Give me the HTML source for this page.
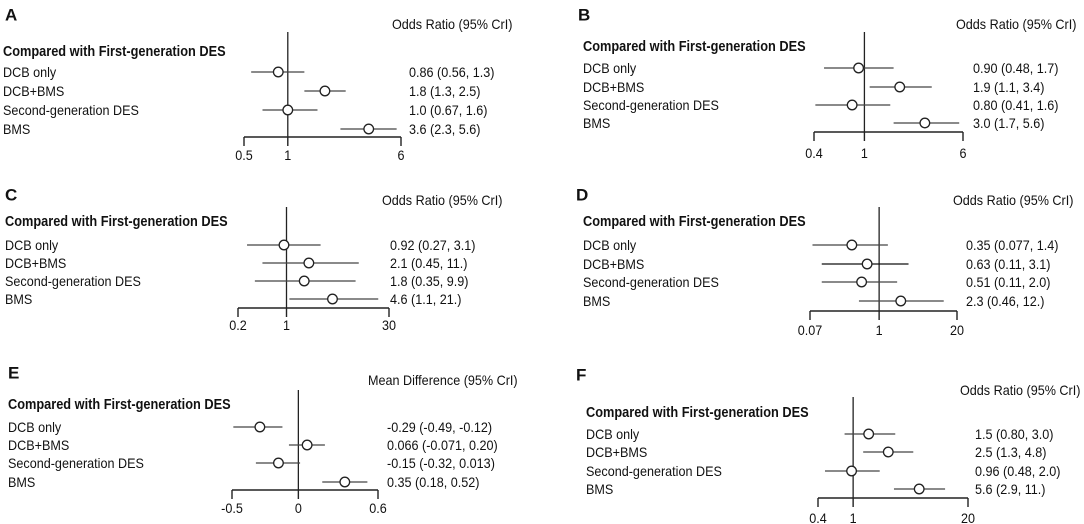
<!DOCTYPE html>
<html><head><meta charset="utf-8"><style>
html,body{margin:0;padding:0;background:#fff}
svg{display:block;font-family:"Liberation Sans",Arial,sans-serif}
</style></head><body>
<svg id="fig" width="1084" height="524" viewBox="0 0 1084 524"></svg>
<script>
const categories = ["DCB only","DCB+BMS","Second-generation DES","BMS"];
const estA=[0.86,1.8,1.0,3.6], loA=[0.56,1.3,0.67,2.3], hiA=[1.3,2.5,1.6,5.6];
const labA=["0.86 (0.56, 1.3)","1.8 (1.3, 2.5)","1.0 (0.67, 1.6)","3.6 (2.3, 5.6)"];
const estB=[0.90,1.9,0.80,3.0], loB=[0.48,1.1,0.41,1.7], hiB=[1.7,3.4,1.6,5.6];
const labB=["0.90 (0.48, 1.7)","1.9 (1.1, 3.4)","0.80 (0.41, 1.6)","3.0 (1.7, 5.6)"];
const estC=[0.92,2.1,1.8,4.6], loC=[0.27,0.45,0.35,1.1], hiC=[3.1,11,9.9,21];
const labC=["0.92 (0.27, 3.1)","2.1 (0.45, 11.)","1.8 (0.35, 9.9)","4.6 (1.1, 21.)"];
const estD=[0.35,0.63,0.51,2.3], loD=[0.077,0.11,0.11,0.46], hiD=[1.4,3.1,2.0,12];
const labD=["0.35 (0.077, 1.4)","0.63 (0.11, 3.1)","0.51 (0.11, 2.0)","2.3 (0.46, 12.)"];
const estE=[-0.29,0.066,-0.15,0.35], loE=[-0.49,-0.071,-0.32,0.18], hiE=[-0.12,0.20,0.013,0.52];
const labE=["-0.29 (-0.49, -0.12)","0.066 (-0.071, 0.20)","-0.15 (-0.32, 0.013)","0.35 (0.18, 0.52)"];
const estF=[1.5,2.5,0.96,5.6], loF=[0.80,1.3,0.48,2.9], hiF=[3.0,4.8,2.0,11];
const labF=["1.5 (0.80, 3.0)","2.5 (1.3, 4.8)","0.96 (0.48, 2.0)","5.6 (2.9, 11.)"];
const ticksA=[0.5,1,6], ticksB=[0.4,1,6], ticksC=[0.2,1,30], ticksD=[0.07,1,20], ticksE=[-0.5,0,0.6], ticksF=[0.4,1,20];
const tickLabA=["0.5","1","6"], tickLabB=["0.4","1","6"], tickLabC=["0.2","1","30"], tickLabD=["0.07","1","20"], tickLabE=["-0.5","0","0.6"], tickLabF=["0.4","1","20"];

const svg=document.getElementById('fig');
const NS="http://www.w3.org/2000/svg";
function mk(tag,attrs,parent){const e=document.createElementNS(NS,tag);for(const k in attrs)e.setAttribute(k,attrs[k]);(parent||svg).appendChild(e);return e;}
function txt(s,x,y,size,parent,opt){opt=opt||{};const t=mk('text',{x:x,y:y,'font-size':size,'dominant-baseline':'central',fill:'#111','text-anchor':opt.anchor||'start','font-weight':opt.bold?'bold':'normal'},parent);t.textContent=s;
  if(opt.squeeze){const w=t.getComputedTextLength();if(w>0){t.setAttribute('textLength',(w*opt.squeeze).toFixed(1));t.setAttribute('lengthAdjust','spacingAndGlyphs');}}return t;}

const panels=[
 {id:'a',letter:'A',lx:5,ly:15,hx:392,hy:24,head:'Odds Ratio (95% CrI)',refTop:32,cx:3,cy:52,rows:[72,91,110,129],ay:137,x0:244,x1:401,ly2:155,vx:409,log:true,ref:1,est:estA,lo:loA,hi:hiA,lab:labA,ticks:ticksA,tl:tickLabA},
 {id:'b',letter:'B',lx:578,ly:15,hx:956,hy:24,head:'Odds Ratio (95% CrI)',refTop:32,cx:583,cy:47,rows:[68,87,105,123],ay:132,x0:814,x1:963,ly2:153,vx:973,log:true,ref:1,est:estB,lo:loB,hi:hiB,lab:labB,ticks:ticksB,tl:tickLabB},
 {id:'c',letter:'C',lx:5,ly:195,hx:382,hy:200,head:'Odds Ratio (95% CrI)',refTop:207,cx:5,cy:222,rows:[245,263,281,299],ay:308,x0:238,x1:389,ly2:325,vx:390,log:true,ref:1,est:estC,lo:loC,hi:hiC,lab:labC,ticks:ticksC,tl:tickLabC},
 {id:'d',letter:'D',lx:576,ly:195,hx:953,hy:200,head:'Odds Ratio (95% CrI)',refTop:207,cx:583,cy:222,rows:[245,264,282,301],ay:311,x0:810,x1:957,ly2:330,vx:966,log:true,ref:1,est:estD,lo:loD,hi:hiD,lab:labD,ticks:ticksD,tl:tickLabD},
 {id:'e',letter:'E',lx:8,ly:373,hx:368,hy:380,head:'Mean Difference (95% CrI)',refTop:390,cx:8,cy:405,rows:[427,445,463,482],ay:490,x0:232,x1:378,ly2:508,vx:387,log:false,ref:0,est:estE,lo:loE,hi:hiE,lab:labE,ticks:ticksE,tl:tickLabE},
 {id:'f',letter:'F',lx:576,ly:375,hx:960,hy:390,head:'Odds Ratio (95% CrI)',refTop:397,cx:586,cy:413,rows:[434,452,471,489],ay:498,x0:818,x1:968,ly2:518,vx:975,log:true,ref:1,est:estF,lo:loF,hi:hiF,lab:labF,ticks:ticksF,tl:tickLabF}
];

panels.forEach(p=>{
  const g=mk('g',{});
  
  
  const tmin=p.ticks[0], tmax=p.ticks[p.ticks.length-1];
  const f=p.log?Math.log:(v=>v);
  const sx=v=>p.x0+(f(v)-f(tmin))/(f(tmax)-f(tmin))*(p.x1-p.x0);
  const L=txt(p.letter,p.lx,p.ly,17,g,{bold:true});
  
  
  const H=txt(p.head,p.hx,p.hy,14,g,{squeeze:0.9});
  
  
  const C=txt('Compared with First-generation DES',p.cx,p.cy,14.5,g,{bold:true,squeeze:0.88});
  
  
  const rl=mk('line',{x1:sx(p.ref),x2:sx(p.ref),y1:p.refTop,y2:p.ay,stroke:'#222','stroke-width':1.3},g);
  
  
  const ax=mk('line',{x1:sx(tmin),x2:sx(tmax),y1:p.ay,y2:p.ay,stroke:'#222','stroke-width':1.4},g);
  
  
  p.ticks.forEach((t,i)=>{
    const tk=mk('line',{x1:sx(t),x2:sx(t),y1:p.ay,y2:p.ay+9,stroke:'#222','stroke-width':1.4},g);
    
    
    const tt=txt(p.tl[i],sx(t),p.ly2,14,g,{anchor:'middle',squeeze:0.9});
    
    
  });
  categories.forEach((c,i)=>{
    const y=p.rows[i];
    const rlab=txt(c,p.cx,y,14,g,{squeeze:0.9});
    
    
    const ci=mk('line',{x1:sx(p.lo[i]),x2:sx(p.hi[i]),y1:y,y2:y,stroke:(p.id==='d'&&i===1)?'#111':'#444','stroke-width':1.3},g);
    
    
    const pt=mk('circle',{cx:sx(p.est[i]),cy:y,r:4.8,fill:'#fff',stroke:'#222','stroke-width':1.3},g);
    
    
    const v=txt(p.lab[i],p.vx,y,14,g,{squeeze:0.9});
    
    
  });
});
</script>
</body></html>
